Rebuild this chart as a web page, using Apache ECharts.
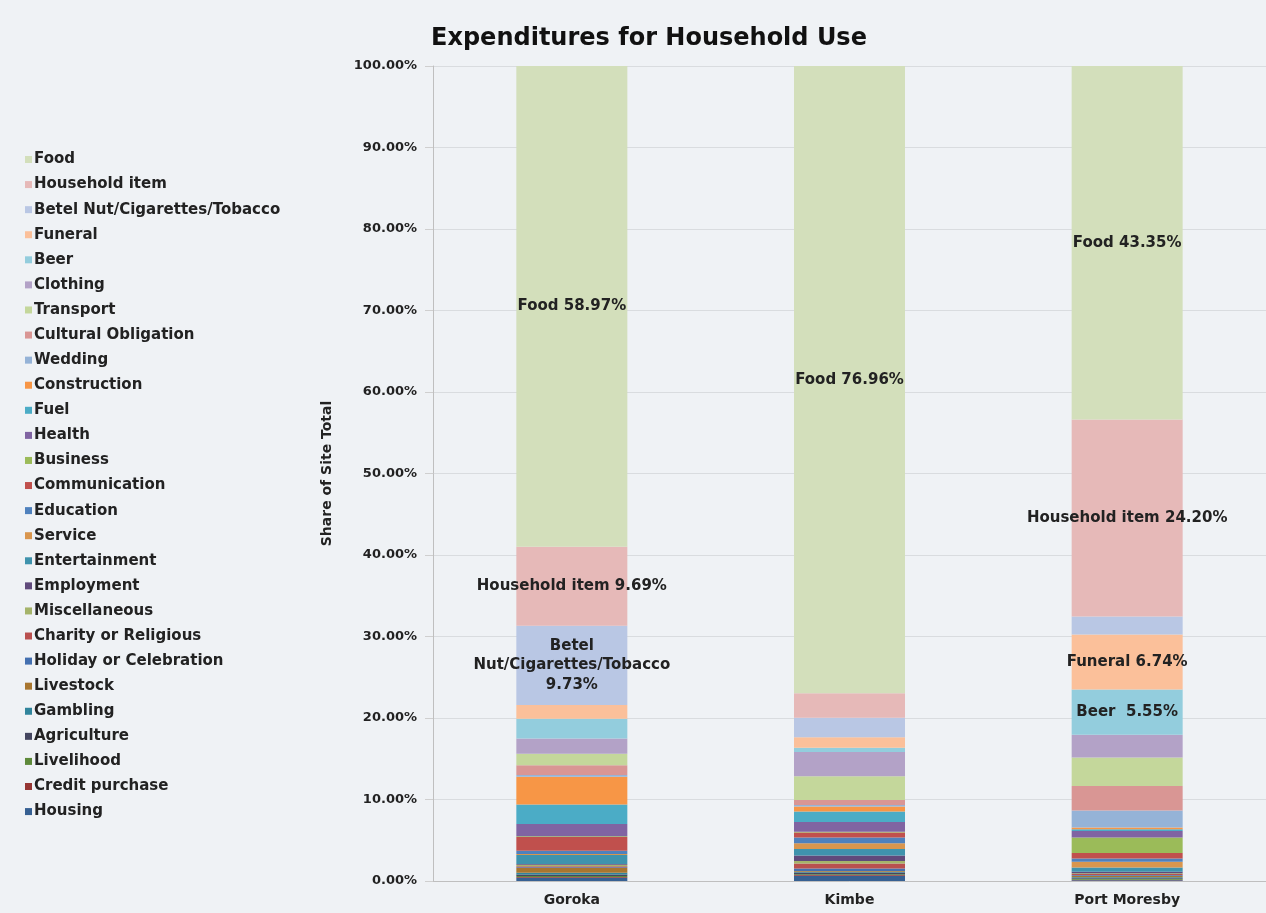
<!DOCTYPE html>
<html>
<head>
<meta charset="utf-8">
<script src="https://cdn.jsdelivr.net/npm/echarts@6/dist/echarts.min.js"></script>
<style>
html,body{margin:0;padding:0;background:#eff2f5;}
#c{width:1266px;height:913px;}
</style>
</head>
<body>
<div id="c"></div>
<script>
const categories = ['Goroka', 'Kimbe', 'Port Moresby'];
// legend order (top of stack first)
const seriesNames = ['Food','Household item','Betel Nut/Cigarettes/Tobacco','Funeral','Beer','Clothing','Transport','Cultural Obligation','Wedding','Construction','Fuel','Health','Business','Communication','Education','Service','Entertainment','Employment','Miscellaneous','Charity or Religious','Holiday or Celebration','Livestock','Gambling','Agriculture','Livelihood','Credit purchase','Housing'];
const seriesColors = ['#d3dfbb','#e6b9b8','#b9c7e4','#fbc09a','#93cddd','#b3a2c7','#c4d79b','#d99694','#95b3d7','#f79646','#4bacc6','#8064a2','#9bbb59','#c0504d','#4f81bd','#d9964e','#3f93ad','#604a7b','#a5b46a','#b9504f','#4470b0','#a8762f','#31859c','#44465f','#5e8a3a','#963634','#366092'];
const gorokaValues = [58.97,9.69,9.73,1.7,2.4,1.9,1.4,1.2,0.2,3.4,2.4,1.5,0.1,1.7,0.4,0.1,1.1,0.1,0.2,0.1,0.1,0.6,0.2,0.2,0.1,0.1,0.4];
const kimbeValues = [76.96,3.0,2.4,1.3,0.5,3.0,2.9,0.6,0.2,0.6,1.3,1.2,0.1,0.6,0.7,0.7,0.8,0.7,0.3,0.6,0.3,0.1,0.1,0.2,0.1,0.1,0.64];
const portMoresbyValues = [43.35,24.20,2.2,6.74,5.55,2.8,3.5,3.0,2.1,0.2,0.2,0.8,1.9,0.7,0.4,0.7,0.5,0.2,0.1,0.1,0.1,0.2,0.1,0.1,0.1,0.05,0.1];
const yTicks = [0,10,20,30,40,50,60,70,80,90,100];
// data labels: [site index, series name, text]
const labelSites = [0,0,0,1,2,2,2,2];
const labelSeries = ['Food','Household item','Betel Nut/Cigarettes/Tobacco','Food','Food','Household item','Funeral','Beer'];
const labelTexts = ['Food 58.97%','Household item 9.69%','Betel\nNut/Cigarettes/Tobacco\n9.73%','Food 76.96%','Food 43.35%','Household item 24.20%','Funeral 6.74%','Beer  5.55%'];

const siteValues = [gorokaValues, kimbeValues, portMoresbyValues];
const FONT = 'DejaVu Sans';

const series = [];
for (let k = seriesNames.length - 1; k >= 0; k--) {
  const name = seriesNames[k];
  const data = siteValues.map((vals, s) => {
    const item = { value: vals[k] };
    for (let j = 0; j < labelSites.length; j++) {
      if (labelSites[j] === s && labelSeries[j] === name) {
        item.label = { show: true, formatter: labelTexts[j] };
      }
    }
    return item;
  });
  series.push({
    name: name,
    type: 'bar',
    stack: 'total',
    barWidth: 111,
    itemStyle: { color: seriesColors[k] },
    label: {
      show: false,
      position: 'inside',
      color: '#222',
      fontFamily: FONT,
      fontWeight: 'bold',
      fontSize: 15,
      lineHeight: 19.5,
      align: 'center'
    },
    emphasis: { disabled: true },
    data: data
  });
}

const chart = echarts.init(document.getElementById('c'), null, { renderer: 'canvas' });
chart.setOption({
  backgroundColor: '#eff2f5',
  animation: false,
  title: {
    text: 'Expenditures for Household Use',
    left: 644,
    textAlign: 'center',
    top: 22,
    textStyle: { fontFamily: FONT, fontWeight: 'bold', fontSize: 24, color: '#111' }
  },
  legend: {
    data: seriesNames,
    orient: 'vertical',
    left: 20,
    top: 147,
    itemWidth: 7,
    itemHeight: 7,
    itemGap: 10.08,
    icon: 'rect',
    selectedMode: false,
    textStyle: { fontFamily: FONT, fontWeight: 'bold', fontSize: 15, lineHeight: 15, color: '#222', padding: [0,0,0,-3] }
  },
  grid: { left: 433, top: 66, width: 837, height: 815 },
  xAxis: {
    type: 'category',
    data: categories,
    axisLine: { show: true, lineStyle: { color: '#bfbfbf' } },
    axisTick: { show: false },
    axisLabel: { margin: 12, fontFamily: FONT, fontWeight: 'bold', fontSize: 14, color: '#222' }
  },
  yAxis: {
    type: 'value',
    min: 0,
    max: 100,
    interval: 10,
    name: 'Share of Site Total',
    nameLocation: 'middle',
    nameRotate: 90,
    nameGap: 99,
    nameTextStyle: { fontFamily: FONT, fontWeight: 'bold', fontSize: 14, color: '#222' },
    axisLine: { show: true, lineStyle: { color: '#bfbfbf' } },
    axisTick: { show: true, length: 8, lineStyle: { color: '#cfcfcf' } },
    splitLine: { show: true, lineStyle: { color: '#d9dcdf' } },
    axisLabel: {
      margin: 16,
      fontFamily: FONT, fontWeight: 'bold', fontSize: 13, color: '#222',
      formatter: v => (yTicks.indexOf(v) >= 0 ? v.toFixed(2) + '%' : '')
    }
  },
  series: series
});
</script>
</body>
</html>
